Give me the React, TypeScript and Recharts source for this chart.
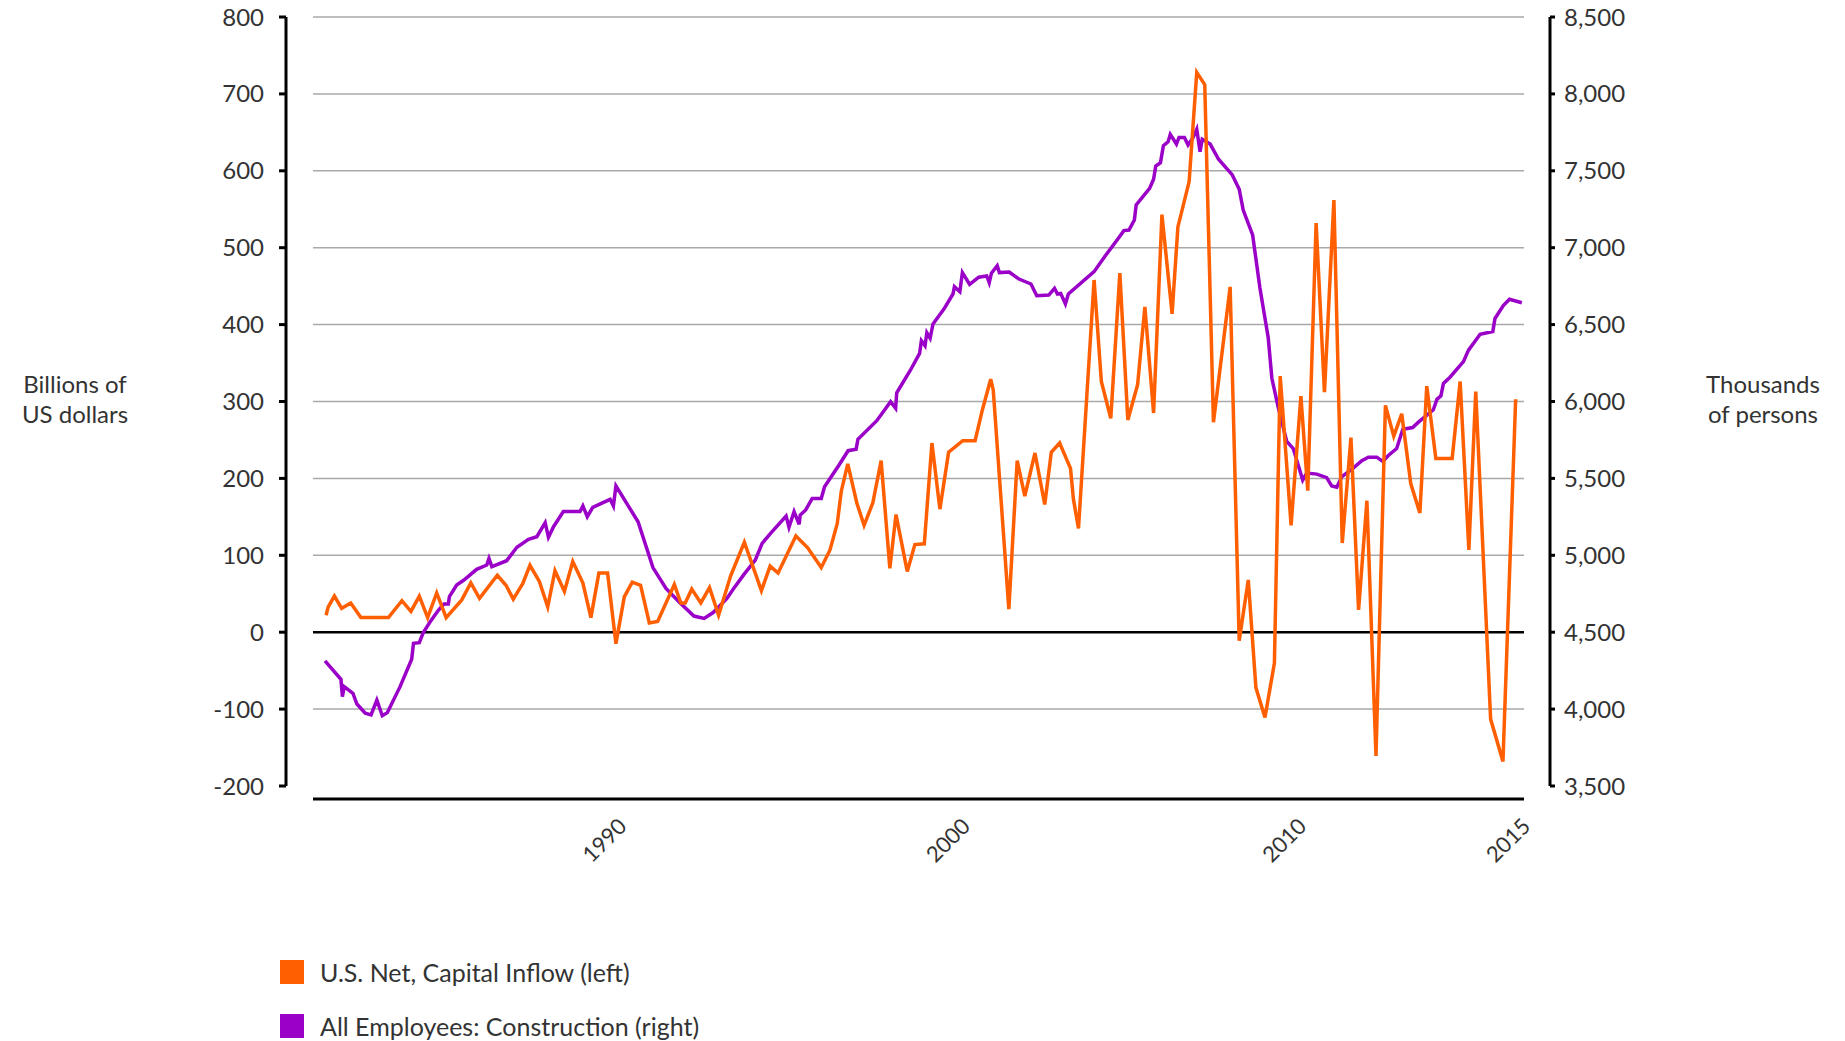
import React from "react";
import { LineChart, Line, XAxis, YAxis, ReferenceLine } from "recharts";

const FONT = "Lato, 'Open Sans', sans-serif";
const ORANGE = "#FF5F00";
const PURPLE = "#9A00C8";

// U.S. net capital inflow, billions of US dollars (left axis)
const inflowYears = [
  1982.0, 1982.06, 1982.23, 1982.43, 1982.68, 1982.96, 1983.72, 1984.09, 1984.34, 1984.57,
  1984.8, 1985.05, 1985.31, 1985.74, 1985.99, 1986.23, 1986.72, 1986.96, 1987.16, 1987.42,
  1987.62, 1987.88, 1988.11, 1988.31, 1988.57, 1988.8, 1989.08, 1989.3, 1989.52, 1989.76,
  1989.99, 1990.22, 1990.44, 1990.67, 1990.91, 1991.14, 1991.6, 1991.78, 1991.9, 1992.08,
  1992.33, 1992.57, 1992.82, 1993.15, 1993.53, 1994.0, 1994.24, 1994.46, 1994.95, 1995.27,
  1995.65, 1995.89, 1996.09, 1996.2, 1996.38, 1996.63, 1996.83, 1997.07, 1997.3, 1997.54,
  1997.71, 1998.02, 1998.23, 1998.49, 1998.7, 1998.92, 1999.16, 1999.55, 1999.89, 2000.09,
  2000.32, 2000.39, 2000.82, 2001.05, 2001.26, 2001.54, 2001.81, 2001.99, 2002.22, 2002.52,
  2002.6, 2002.74, 2003.17, 2003.37, 2003.63, 2003.88, 2004.1, 2004.37, 2004.57, 2004.81,
  2005.04, 2005.32, 2005.48, 2005.79, 2006.0, 2006.22, 2006.46, 2006.92, 2007.17, 2007.42,
  2007.63, 2007.88, 2008.14, 2008.3, 2008.6, 2008.87, 2009.06, 2009.29, 2009.52, 2009.78,
  2010.01, 2010.25, 2010.46, 2010.69, 2010.94, 2011.2, 2011.43, 2011.65, 2011.9, 2012.15,
  2012.34, 2012.59, 2013.04, 2013.26, 2013.5, 2013.69, 2014.1, 2014.44, 2014.79,
];
const inflowValues = [
  22, 33, 47, 31, 38, 19, 19, 41, 27, 47,
  19, 51, 19, 42, 64, 44, 74, 61, 43, 63,
  87, 66, 33, 80, 53, 92, 64, 19, 77, 77,
  -15, 46, 65, 61, 12, 14, 62, 38, 38, 56,
  38, 58, 22, 73, 117, 54, 86, 77, 125, 110,
  84, 107, 141, 183, 219, 168, 139, 168, 223, 83,
  153, 79, 114, 115, 246, 160, 234, 249, 249, 289,
  329, 315, 30, 223, 177, 233, 166, 234, 246, 213,
  173, 135, 458, 326, 278, 467, 276, 322, 423, 285,
  543, 414, 527, 586, 728, 712, 273, 449, -11, 68,
  -72, -111, -40, 333, 139, 307, 184, 532, 312, 562,
  116, 253, 29, 171, -161, 295, 255, 284, 193, 155,
  320, 226, 226, 326, 107, 313, -113, -168, 303,
];

// All employees: construction, thousands of persons (right axis)
const constructionYears = [
  1981.97, 1982.41, 1982.45, 1982.5, 1982.74, 1982.85, 1983.08, 1983.24, 1983.4, 1983.55,
  1983.69, 1984.04, 1984.36, 1984.41, 1984.57, 1984.68, 1984.87, 1985.1, 1985.25, 1985.37,
  1985.4, 1985.6, 1985.8, 1986.15, 1986.43, 1986.49, 1986.57, 1986.98, 1987.26, 1987.58,
  1987.81, 1988.04, 1988.13, 1988.27, 1988.54, 1989.0, 1989.08, 1989.2, 1989.35, 1989.83,
  1989.92, 1989.99, 1990.6, 1991.01, 1991.37, 1991.76, 1992.14, 1992.42, 1992.67, 1993.05,
  1993.22, 1993.52, 1993.83, 1994.02, 1994.27, 1994.68, 1994.76, 1994.9, 1995.04, 1995.07,
  1995.22, 1995.4, 1995.65, 1995.74, 1996.14, 1996.39, 1996.61, 1996.66, 1997.18, 1997.56,
  1997.7, 1997.73, 1998.11, 1998.36, 1998.41, 1998.51, 1998.56, 1998.65, 1998.73, 1999.03,
  1999.28, 1999.32, 1999.47, 1999.54, 1999.74, 1999.99, 2000.21, 2000.28, 2000.34, 2000.5,
  2000.56, 2000.83, 2001.1, 2001.43, 2001.59, 2001.92, 2002.08, 2002.16, 2002.25, 2002.38,
  2002.46, 2003.17, 2003.44, 2003.82, 2003.99, 2004.13, 2004.28, 2004.33, 2004.7, 2004.81,
  2004.87, 2005.0, 2005.08, 2005.21, 2005.27, 2005.44, 2005.51, 2005.66, 2005.76, 2005.9,
  2006.0, 2006.09, 2006.15, 2006.37, 2006.6, 2006.98, 2007.17, 2007.28, 2007.54, 2007.74,
  2007.97, 2008.07, 2008.25, 2008.48, 2008.66, 2008.92, 2009.03, 2009.31, 2009.58, 2009.72,
  2009.86, 2010.0, 2010.32, 2010.55, 2010.73, 2010.96, 2011.13, 2011.28, 2011.51, 2011.68,
  2011.95, 2012.11, 2012.52, 2012.62, 2012.73, 2012.8, 2012.98, 2013.35, 2013.49, 2013.81,
  2014.16, 2014.22, 2014.45, 2014.62, 2014.96,
];
const constructionValues = [
  4313, 4194, 4081, 4146, 4103, 4033, 3973, 3962, 4059, 3957,
  3977, 4146, 4324, 4428, 4432, 4497, 4568, 4644, 4683, 4683,
  4731, 4807, 4839, 4909, 4937, 4980, 4926, 4965, 5052, 5104,
  5121, 5212, 5117, 5186, 5284, 5284, 5321, 5251, 5312, 5364,
  5321, 5451, 5218, 4920, 4785, 4690, 4605, 4590, 4628, 4720,
  4779, 4876, 4969, 5078, 5147, 5255, 5182, 5284, 5202, 5262,
  5295, 5370, 5370, 5446, 5587, 5680, 5689, 5754, 5875, 5999,
  5956, 6057, 6205, 6313, 6395, 6363, 6447, 6411, 6504, 6601,
  6699, 6747, 6714, 6838, 6762, 6808, 6816, 6772, 6834, 6883,
  6838, 6842, 6796, 6764, 6688, 6692, 6736, 6699, 6703, 6634,
  6699, 6844, 6935, 7055, 7111, 7115, 7180, 7278, 7386, 7445,
  7531, 7553, 7663, 7689, 7737, 7674, 7717, 7717, 7668, 7717,
  7770, 7624, 7705, 7674, 7575, 7473, 7380, 7245, 7083, 6740,
  6414, 6151, 5957, 5741, 5694, 5489, 5535, 5528, 5505, 5451,
  5443, 5512, 5569, 5615, 5638, 5638, 5610, 5649, 5694, 5820,
  5831, 5866, 5946, 6014, 6037, 6117, 6158, 6259, 6334, 6437,
  6455, 6540, 6624, 6665, 6642,
];

const leftTicks = [-200, -100, 0, 100, 200, 300, 400, 500, 600, 700, 800];
const rightTicks = [3500, 4000, 4500, 5000, 5500, 6000, 6500, 7000, 7500, 8000, 8500];
const gridValues = [-100, 100, 200, 300, 400, 500, 600, 700, 800];
const yearTickPositions = [1990, 1999.47, 2008.74, 2014.91];
const yearTickLabels = ["1990", "2000", "2010", "2015"];

const inflowData = inflowYears.map((x, i) => ({ x, v: inflowValues[i] }));
const constructionData = constructionYears.map((x, i) => ({ x, v: constructionValues[i] }));

const YearTick = ({ x, y, payload }: any) => {
  const label = yearTickLabels[yearTickPositions.indexOf(payload.value)];
  return (
    <g transform={`translate(${x},${y})`}>
      <text
        transform="rotate(-45)"
        textAnchor="end"
        dy="0.75em"
        fill="#333"
        fontSize={22}
        fontFamily={FONT}
      >
        {label}
      </text>
    </g>
  );
};

const titleStyle: React.CSSProperties = {
  position: "absolute",
  width: 150,
  textAlign: "center",
  fontFamily: FONT,
  fontSize: 24,
  lineHeight: "30px",
  color: "#333",
};

const legendRow = (color: string, text: string, top: number) => (
  <div
    style={{
      position: "absolute",
      left: 280,
      top,
      height: 30,
      display: "flex",
      alignItems: "center",
      fontFamily: FONT,
      fontSize: 25,
      color: "#333",
      whiteSpace: "nowrap",
    }}
  >
    <span style={{ width: 24, height: 24, background: color, marginRight: 16 }} />
    {text}
  </div>
);

export default function App() {
  const tickStyle = { fill: "#333", fontSize: 24, fontFamily: FONT };
  return (
    <div style={{ position: "absolute", left: 0, top: 0, width: 1845, height: 1041, background: "#fff" }}>
      <LineChart width={1845} height={900} margin={{ top: 17, right: 175, bottom: 41, left: 136 }}>
        {/* spacer axes keep the drawn axes away from the plot area */}
        <XAxis xAxisId="gap" type="number" domain={[0, 1]} height={13} tick={false} axisLine={false} tickLine={false} />
        <XAxis
          xAxisId="main"
          dataKey="x"
          type="number"
          domain={[1981.64, 2015.02]}
          ticks={yearTickPositions}
          interval={0}
          height={60}
          tickSize={0}
          tickMargin={17}
          tickLine={false}
          axisLine={{ stroke: "#000", strokeWidth: 3 }}
          tick={<YearTick />}
        />
        <YAxis yAxisId="gapL" orientation="left" type="number" domain={[0, 1]} width={27} tick={false} axisLine={false} tickLine={false} />
        <YAxis
          yAxisId="left"
          orientation="left"
          type="number"
          domain={[-200, 800]}
          ticks={leftTicks}
          interval={0}
          width={150}
          tickSize={7}
          tickMargin={15}
          tick={tickStyle}
          tickLine={{ stroke: "#000", strokeWidth: 3 }}
          axisLine={{ stroke: "#000", strokeWidth: 3 }}
        />
        <YAxis yAxisId="gapR" orientation="right" type="number" domain={[0, 1]} width={26} tick={false} axisLine={false} tickLine={false} />
        <YAxis
          yAxisId="right"
          orientation="right"
          type="number"
          domain={[3500, 8500]}
          ticks={rightTicks}
          interval={0}
          width={120}
          tickSize={5}
          tickMargin={9}
          tick={tickStyle}
          tickFormatter={(v: number) => v.toLocaleString("en-US")}
          tickLine={{ stroke: "#000", strokeWidth: 3 }}
          axisLine={{ stroke: "#000", strokeWidth: 3 }}
        />
        {gridValues.map((v) => (
          <ReferenceLine key={v} xAxisId="main" yAxisId="left" y={v} stroke="#a9a9a9" strokeWidth={1.5} />
        ))}
        <ReferenceLine xAxisId="main" yAxisId="left" y={0} stroke="#000" strokeWidth={2.5} />
        <Line
          data={constructionData}
          xAxisId="main"
          yAxisId="right"
          dataKey="v"
          name="All Employees: Construction (right)"
          type="linear"
          stroke={PURPLE}
          strokeWidth={3.5}
          dot={false}
          activeDot={false}
          isAnimationActive={false}
        />
        <Line
          data={inflowData}
          xAxisId="main"
          yAxisId="left"
          dataKey="v"
          name="U.S. Net, Capital Inflow (left)"
          type="linear"
          stroke={ORANGE}
          strokeWidth={3.5}
          dot={false}
          activeDot={false}
          isAnimationActive={false}
        />
      </LineChart>
      <div style={{ ...titleStyle, left: 0, top: 369 }}>
        Billions of
        <br />
        US dollars
      </div>
      <div style={{ ...titleStyle, left: 1688, top: 369 }}>
        Thousands
        <br />
        of persons
      </div>
      {legendRow(ORANGE, "U.S. Net, Capital Inflow (left)", 957)}
      {legendRow(PURPLE, "All Employees: Construction (right)", 1011)}
    </div>
  );
}
